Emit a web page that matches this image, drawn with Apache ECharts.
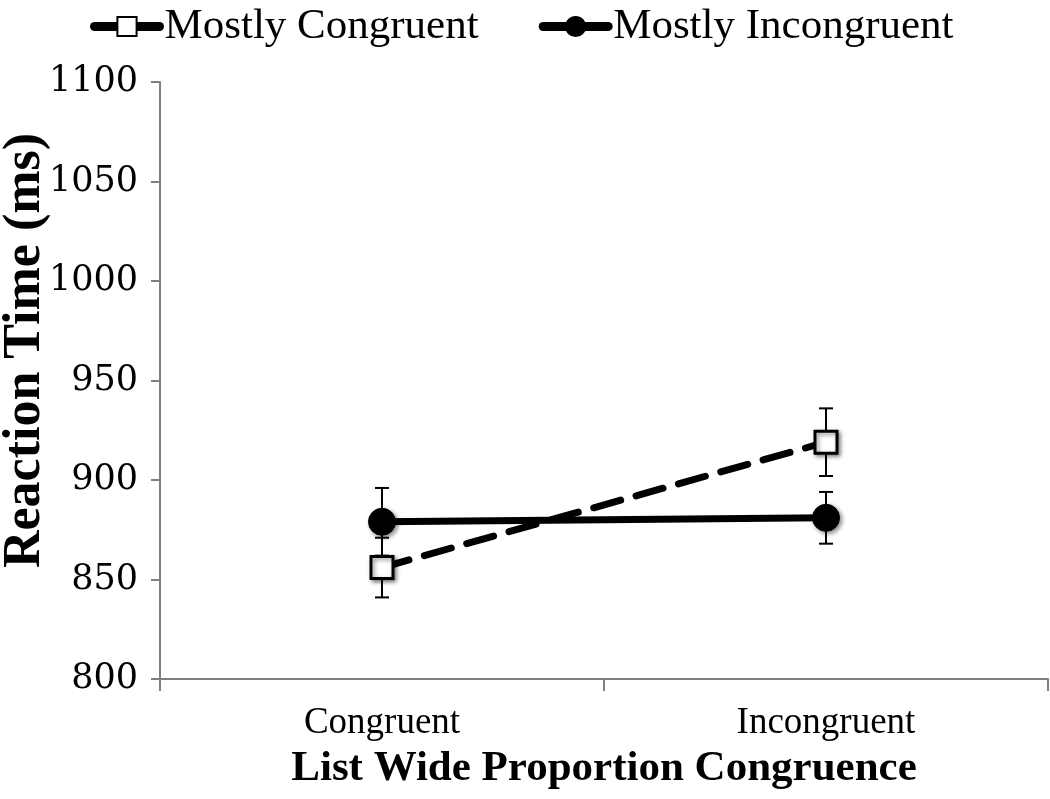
<!DOCTYPE html>
<html>
<head>
<meta charset="utf-8">
<script src="https://cdn.jsdelivr.net/npm/echarts@6/dist/echarts.min.js"></script>
<style>
html,body{margin:0;padding:0;background:#fff;}
#chart{width:1050px;height:799px;}
</style>
</head>
<body>
<div id="chart"></div>
<script>
var categories = ['Congruent', 'Incongruent'];
var yTicks = [800, 850, 900, 950, 1000, 1050, 1100];
var mcName = 'Mostly Congruent';
var miName = 'Mostly Incongruent';
var mcMeans = [856, 919];
var mcErr = [15, 17];
var miMeans = [879, 881];
var miErr = [17, 13];

var chart = echarts.init(document.getElementById('chart'));
var serif = 'Liberation Serif';
var axisGrey = '#808080';

function errData(means, errs) {
  return means.map(function (m, i) { return [i, m - errs[i], m + errs[i]]; });
}
function errRender(params, api) {
  var x = api.value(0);
  var lo = api.coord([x, api.value(1)]);
  var hi = api.coord([x, api.value(2)]);
  var w = 7;
  var st = { stroke: '#000', lineWidth: 2 };
  return {
    type: 'group',
    children: [
      { type: 'line', shape: { x1: lo[0], y1: lo[1], x2: hi[0], y2: hi[1] }, style: st },
      { type: 'line', shape: { x1: lo[0] - w, y1: lo[1], x2: lo[0] + w, y2: lo[1] }, style: st },
      { type: 'line', shape: { x1: hi[0] - w, y1: hi[1], x2: hi[0] + w, y2: hi[1] }, style: st }
    ]
  };
}

var option = {
  animation: false,
  backgroundColor: '#fff',
  grid: { left: 160, right: 2, top: 82, bottom: 120, containLabel: false, outerBoundsMode: 'none' },
  legend: {
    top: 0,
    left: 85,
    itemWidth: 65,
    itemHeight: 24,
    itemGap: 60,
    data: [mcName, miName],
    lineStyle: { width: 9, type: 'solid', cap: 'round' },
    textStyle: { fontFamily: serif, fontSize: 43, color: '#000' }
  },
  xAxis: {
    type: 'category',
    data: categories,
    boundaryGap: true,
    axisLine: { lineStyle: { color: axisGrey, width: 2 } },
    axisTick: { show: true, length: 12, lineStyle: { color: axisGrey, width: 2 } },
    axisLabel: { color: '#000', fontFamily: serif, fontSize: 37, margin: 26 },
    name: 'List Wide Proportion Congruence',
    nameLocation: 'middle',
    nameGap: 68,
    nameMoveOverlap: false,
    nameTextStyle: { color: '#000', fontFamily: serif, fontSize: 43, fontWeight: 'bold' }
  },
  yAxis: {
    type: 'value',
    min: yTicks[0],
    max: yTicks[yTicks.length - 1],
    interval: 50,
    splitLine: { show: false },
    axisLine: { show: true, lineStyle: { color: axisGrey, width: 2 } },
    axisTick: { show: true, length: 9, lineStyle: { color: axisGrey, width: 2 } },
    axisLabel: { color: '#000', fontFamily: 'DejaVu Serif', fontSize: 35, margin: 22,
      formatter: function (v) { return String(v); } },
    name: 'Reaction Time (ms)',
    nameLocation: 'middle',
    nameGap: 108,
    nameMoveOverlap: false,
    nameTextStyle: { color: '#000', fontFamily: serif, fontSize: 52, fontWeight: 'bold', padding: [0, 0, 0, 60] }
  },
  series: [
    {
      name: mcName + ' err', type: 'custom', renderItem: errRender,
      data: errData(mcMeans, mcErr), z: 1, silent: true
    },
    {
      name: miName + ' err', type: 'custom', renderItem: errRender,
      data: errData(miMeans, miErr), z: 1, silent: true
    },
    {
      name: mcName, type: 'line', data: mcMeans, z: 3,
      symbol: 'rect', symbolSize: 22,
      lineStyle: { color: '#000', width: 7, type: [28, 16], cap: 'round' },
      itemStyle: { color: '#fff', borderColor: '#000', borderWidth: 3,
        shadowBlur: 4, shadowColor: 'rgba(0,0,0,0.45)', shadowOffsetX: 2, shadowOffsetY: 2 }
    },
    {
      name: miName, type: 'line', data: miMeans, z: 4,
      symbol: 'circle', symbolSize: 27,
      lineStyle: { color: '#000', width: 7 },
      itemStyle: { color: '#000', borderColor: '#000', borderWidth: 1,
        shadowBlur: 4, shadowColor: 'rgba(0,0,0,0.45)', shadowOffsetX: 2, shadowOffsetY: 2 }
    }
  ]
};
chart.setOption(option);
</script>
</body>
</html>
